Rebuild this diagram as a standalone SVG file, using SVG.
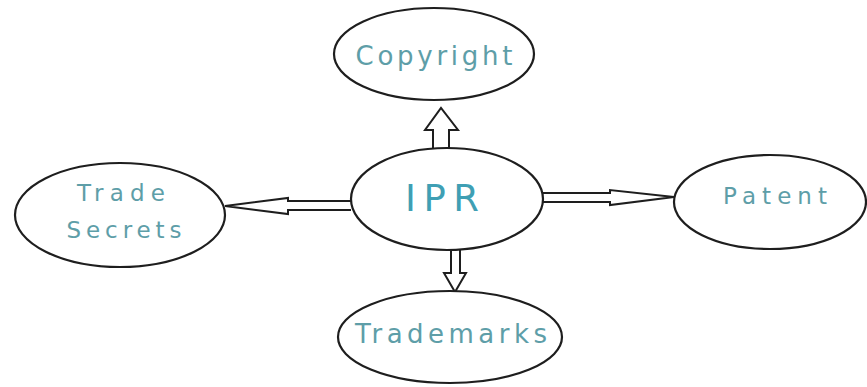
<svg xmlns="http://www.w3.org/2000/svg" width="867" height="387" viewBox="0 0 867 387">
<style>
.node ellipse{fill:#fff;stroke:#1e1e1e;stroke-width:2.2}
.lbl{font-family:"DejaVu Sans","Open Sans",sans-serif;fill:#5e9ea8;text-anchor:middle}
.conn path{fill:#fff;stroke:#1e1e1e;stroke-width:2;stroke-linejoin:miter}
</style>
<rect width="867" height="387" fill="#fff"/>
<g class="conn" id="connectors">
<path d="M433 149 L433 130 L425 130 L441 108 L458 130 L449 130 L449 149"/>
<path d="M451 250 L451 273 L444 273 L455 292 L466 273 L460 273 L460 250"/>
<path d="M351 201 L288 201 L288 198 L225 206 L288 214 L288 210 L351 210"/>
<path d="M543 193 L610 193 L610 190 L674 197 L610 205 L610 202 L543 202"/>
</g>
<g class="node" id="copyright"><ellipse cx="434" cy="54" rx="100" ry="46"/><text class="lbl" x="434" y="65" font-size="26" textLength="157" lengthAdjust="spacing">Copyright</text></g>
<g class="node" id="ipr"><ellipse cx="447" cy="199" rx="96" ry="51"/><text class="lbl" x="442" y="211" font-size="37" style="fill:#3f9fb4" textLength="74" lengthAdjust="spacing">IPR</text></g>
<g class="node" id="trade-secrets"><ellipse cx="120" cy="215" rx="105" ry="52"/><text class="lbl" x="121" y="201" font-size="23" textLength="88" lengthAdjust="spacing">Trade</text><text class="lbl" x="124" y="238" font-size="23" textLength="115" lengthAdjust="spacing">Secrets</text></g>
<g class="node" id="patent"><ellipse cx="770" cy="202" rx="96" ry="47"/><text class="lbl" x="775" y="204" font-size="23" textLength="104" lengthAdjust="spacing">Patent</text></g>
<g class="node" id="trademarks"><ellipse cx="450" cy="337" rx="112" ry="46"/><text class="lbl" x="451" y="343" font-size="26" textLength="192" lengthAdjust="spacing">Trademarks</text></g>
</svg>
